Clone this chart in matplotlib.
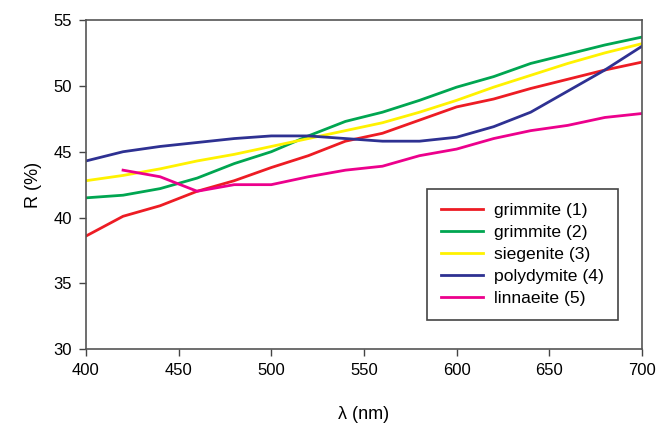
import matplotlib.pyplot as plt

plt.rcParams['font.family'] = ['Liberation Sans', 'DejaVu Sans']

wl = [400, 420, 440, 460, 480, 500, 520, 540, 560, 580, 600, 620, 640, 660, 680, 700]
grimmite1 = [38.6, 40.1, 40.9, 42.0, 42.8, 43.8, 44.7, 45.8, 46.4, 47.4, 48.4, 49.0, 49.8, 50.5, 51.2, 51.8]
grimmite2 = [41.5, 41.7, 42.2, 43.0, 44.1, 45.0, 46.2, 47.3, 48.0, 48.9, 49.9, 50.7, 51.7, 52.4, 53.1, 53.7]
siegenite = [42.8, 43.2, 43.7, 44.3, 44.8, 45.4, 46.0, 46.6, 47.2, 48.0, 48.9, 49.9, 50.8, 51.7, 52.5, 53.2]
polydymite = [44.3, 45.0, 45.4, 45.7, 46.0, 46.2, 46.2, 46.0, 45.8, 45.8, 46.1, 46.9, 48.0, 49.6, 51.2, 53.0]
wl_linn = wl[1:]
linnaeite = [43.6, 43.1, 42.0, 42.5, 42.5, 43.1, 43.6, 43.9, 44.7, 45.2, 46.0, 46.6, 47.0, 47.6, 47.9]

fig = plt.figure(figsize=(6.59, 4.25), dpi=100)
ax = fig.add_axes([0.1305, 0.178, 0.8435, 0.775])

ax.plot(wl, grimmite1, color='#ED1C24', lw=2, label='grimmite (1)')
ax.plot(wl, grimmite2, color='#00A651', lw=2, label='grimmite (2)')
ax.plot(wl, siegenite, color='#FFF200', lw=2, label='siegenite (3)')
ax.plot(wl, polydymite, color='#2E3192', lw=2, label='polydymite (4)')
ax.plot(wl_linn, linnaeite, color='#EC008C', lw=2, label='linnaeite (5)')

ax.set_xlim(400, 700)
ax.set_ylim(30, 55)
ax.set_xticks(range(400, 701, 50))
ax.set_yticks(range(30, 56, 5))
ax.tick_params(labelsize=12, length=5, width=1, color='#444444', pad=5)
for s in ax.spines.values():
    s.set_color('#555555')
    s.set_linewidth(1.2)

ax.set_xlabel('λ (nm)', fontsize=13, labelpad=20)
ax.set_ylabel('R (%)', fontsize=13, labelpad=8)

leg = ax.legend(loc='lower right', bbox_to_anchor=(0.957, 0.09), fontsize=12.6,
                fancybox=False, edgecolor='#444444', framealpha=1,
                handlelength=2.4, handletextpad=0.6, labelspacing=0.38,
                borderpad=0.8, borderaxespad=0)
leg.get_frame().set_linewidth(1.2)

fig.savefig('out.png', dpi=100)
